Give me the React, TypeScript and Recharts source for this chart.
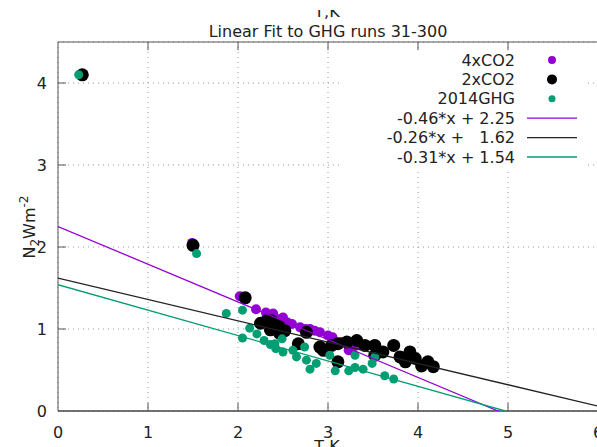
import React from 'react';
import { CartesianGrid, ReferenceLine, Scatter, ScatterChart, XAxis, YAxis } from 'recharts';

// points (T in K, N in W m-2)
const co2x4 = [
  { x: 0.25, y: 4.1 }, { x: 1.49, y: 2.05 }, { x: 2.02, y: 1.4 }, { x: 2.2, y: 1.24 },
  { x: 2.31, y: 1.2 }, { x: 2.39, y: 1.19 }, { x: 2.37, y: 1.16 }, { x: 2.45, y: 1.12 },
  { x: 2.5, y: 1.14 }, { x: 2.55, y: 1.08 }, { x: 2.6, y: 1.06 }, { x: 2.69, y: 1.02 },
  { x: 2.75, y: 1.0 }, { x: 2.8, y: 1.0 }, { x: 2.85, y: 0.98 }, { x: 2.91, y: 0.96 },
  { x: 3.0, y: 0.92 }, { x: 3.05, y: 0.9 }, { x: 3.15, y: 0.84 }, { x: 3.23, y: 0.74 },
  { x: 3.26, y: 0.74 }, { x: 3.32, y: 0.8 },
];

const co2x2 = [
  { x: 0.27, y: 4.1 }, { x: 1.5, y: 2.02 }, { x: 2.08, y: 1.38 }, { x: 2.25, y: 1.07 },
  { x: 2.32, y: 1.1 }, { x: 2.36, y: 0.99 }, { x: 2.37, y: 1.1 }, { x: 2.45, y: 1.04 },
  { x: 2.46, y: 0.95 }, { x: 2.52, y: 0.98 }, { x: 2.67, y: 0.82 }, { x: 2.76, y: 0.96 },
  { x: 2.91, y: 0.78 }, { x: 2.95, y: 0.74 }, { x: 3.04, y: 0.8 }, { x: 3.11, y: 0.82 },
  { x: 3.21, y: 0.84 }, { x: 3.11, y: 0.6 }, { x: 3.32, y: 0.86 }, { x: 3.41, y: 0.8 },
  { x: 3.52, y: 0.8 }, { x: 3.52, y: 0.68 }, { x: 3.61, y: 0.72 }, { x: 3.73, y: 0.8 },
  { x: 3.8, y: 0.66 }, { x: 3.86, y: 0.6 }, { x: 3.91, y: 0.72 }, { x: 3.97, y: 0.64 },
  { x: 4.04, y: 0.55 }, { x: 4.11, y: 0.6 }, { x: 4.17, y: 0.54 },
];

const ghg2014 = [
  { x: 0.23, y: 4.1 }, { x: 1.54, y: 1.92 }, { x: 1.87, y: 1.19 }, { x: 2.05, y: 1.23 },
  { x: 2.05, y: 0.89 }, { x: 2.13, y: 1.01 }, { x: 2.21, y: 0.94 }, { x: 2.29, y: 0.86 },
  { x: 2.36, y: 0.81 }, { x: 2.41, y: 0.82 }, { x: 2.42, y: 0.76 }, { x: 2.49, y: 0.88 },
  { x: 2.5, y: 0.72 }, { x: 2.61, y: 0.74 }, { x: 2.65, y: 0.66 }, { x: 2.74, y: 0.78 },
  { x: 2.76, y: 0.62 }, { x: 2.8, y: 0.51 }, { x: 2.87, y: 0.58 }, { x: 3.02, y: 0.68 },
  { x: 3.08, y: 0.49 }, { x: 3.23, y: 0.49 }, { x: 3.3, y: 0.53 }, { x: 3.3, y: 0.68 },
  { x: 3.39, y: 0.51 }, { x: 3.49, y: 0.58 }, { x: 3.52, y: 0.66 }, { x: 3.63, y: 0.43 },
  { x: 3.73, y: 0.39 },
];

// fit lines, end points
const fit4x = [{ x: 0, y: 2.25 }, { x: 4.89, y: 0 }];
const fit2x = [{ x: 0, y: 1.62 }, { x: 6, y: 0.06 }];
const fitGhg = [{ x: 0, y: 1.54 }, { x: 4.97, y: 0 }];

const xTicks = [0, 1, 2, 3, 4, 5, 6];
const yTicks = [0, 1, 2, 3, 4];

const legendLabels = ['4xCO2', '2xCO2', '2014GHG', '-0.46*x + 2.25', '-0.26*x +   1.62', '-0.31*x + 1.54'];

const PURPLE = '#9400d3';
const GREEN = '#009e73';
const FONT = 'DejaVu Sans, sans-serif';

const dot = (r: number, fill: string) => (props: any) => <circle cx={props.cx} cy={props.cy} r={r} fill={fill} />;

export default function App() {
  const tickStyle = { fill: '#222', fontSize: 16, fontFamily: FONT };
  return (
    <div style={{ position: 'absolute', left: 0, top: 0, width: 597, height: 447, overflow: 'hidden', background: '#fff' }}>
      <ScatterChart width={620} height={447} margin={{ top: 42, right: 22, left: 0, bottom: 0 }}>
        <CartesianGrid stroke="#9a9a9a" strokeDasharray="1 4" />
        <XAxis type="number" dataKey="x" domain={[0, 6]} ticks={xTicks} allowDataOverflow height={36}
          axisLine={false} tickLine={false} tick={tickStyle} tickMargin={10} />
        <YAxis type="number" dataKey="y" domain={[0, 4.5]} ticks={yTicks} allowDataOverflow width={58}
          axisLine={false} tickLine={false} tick={tickStyle} tickMargin={5} />

        <ReferenceLine x={0} stroke="#555" />
        <ReferenceLine x={6} stroke="#555" />
        <ReferenceLine y={0} stroke="#444" strokeWidth={1.5} />
        <ReferenceLine y={4.5} stroke="#555" />
        {xTicks.slice(1, -1).map((t) => (
          <ReferenceLine key={'b' + t} segment={[{ x: t, y: 0 }, { x: t, y: 0.1 }]} stroke="#555" />
        ))}
        {xTicks.slice(1, -1).map((t) => (
          <ReferenceLine key={'t' + t} segment={[{ x: t, y: 4.5 }, { x: t, y: 4.4 }]} stroke="#555" />
        ))}
        {yTicks.slice(1).map((t) => (
          <ReferenceLine key={'l' + t} segment={[{ x: 0, y: t }, { x: 0.09, y: t }]} stroke="#555" />
        ))}

        <Scatter data={co2x4} shape={dot(5, PURPLE)} isAnimationActive={false} />
        <Scatter data={co2x2} shape={dot(6.5, '#000')} isAnimationActive={false} />
        <Scatter data={ghg2014} shape={dot(4.5, GREEN)} isAnimationActive={false} />

        <Scatter data={fit4x} line={{ stroke: PURPLE, strokeWidth: 1.3 }} lineType="joint" shape={() => <g />} isAnimationActive={false} />
        <Scatter data={fit2x} line={{ stroke: '#222', strokeWidth: 1.3 }} lineType="joint" shape={() => <g />} isAnimationActive={false} />
        <Scatter data={fitGhg} line={{ stroke: GREEN, strokeWidth: 1.3 }} lineType="joint" shape={() => <g />} isAnimationActive={false} />
      </ScatterChart>

      <svg width={597} height={447} style={{ position: 'absolute', left: 0, top: 0, pointerEvents: 'none' }}
        fontFamily={FONT} fontSize={16} fill="#222">
        <text x={327} y={17} textAnchor="middle">T,K</text>
        <rect x={0} y={0} width={597} height={10} fill="#fff" />
        <text x={328} y={37} textAnchor="middle">Linear Fit to GHG runs 31-300</text>
        <text x={327} y={452} textAnchor="middle">T,K</text>
        <text x={35} y={227} textAnchor="middle" transform="rotate(-90 35 227)">
          N<tspan fontSize={12} dy={4}>2</tspan><tspan dy={-4}>Wm</tspan>
          <tspan fontSize={12} dy={-7}>-2</tspan>
        </text>

        <rect x={340} y={51} width={247} height={117} fill="#fff" />
        {legendLabels.map((label, i) => {
          const cy = 60 + i * 19.4;
          return (
            <g key={label}>
              <text x={515} y={cy + 5.5} textAnchor="end" style={{ whiteSpace: 'pre' }}>{label}</text>
              {i === 0 && <circle cx={552} cy={cy} r={4} fill={PURPLE} />}
              {i === 1 && <circle cx={552} cy={cy} r={5} fill="#000" />}
              {i === 2 && <circle cx={552} cy={cy} r={3.5} fill={GREEN} />}
              {i >= 3 && (
                <line x1={527} x2={577} y1={cy} y2={cy} strokeWidth={1.3}
                  stroke={i === 3 ? PURPLE : i === 4 ? '#222' : GREEN} />
              )}
            </g>
          );
        })}
      </svg>
    </div>
  );
}
